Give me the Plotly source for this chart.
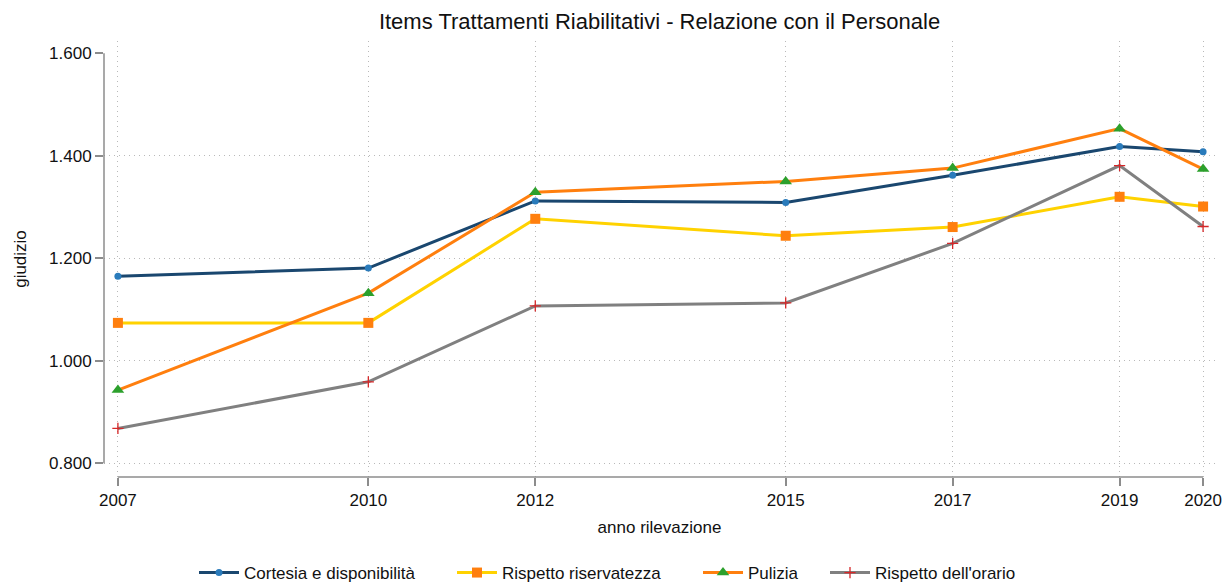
import plotly.graph_objects as go

# Survey years and average scores per item
anni = [2007, 2010, 2012, 2015, 2017, 2019, 2020]
cortesia = [1.165, 1.181, 1.312, 1.309, 1.362, 1.418, 1.408]
riservatezza = [1.074, 1.074, 1.277, 1.244, 1.261, 1.320, 1.301]
pulizia = [0.943, 1.132, 1.329, 1.350, 1.376, 1.453, 1.374]
orario = [0.868, 0.959, 1.107, 1.113, 1.229, 1.381, 1.262]

y_ticks = [0.8, 1.0, 1.2, 1.4, 1.6]
y_labels = ["0.800", "1.000", "1.200", "1.400", "1.600"]

FONT = "Liberation Sans, Arial, sans-serif"
GRID = "#b9b9b9"
AXIS = "#8c8c8c"
GRID_DASH = "1px,4px"

series = [
    ("Cortesia e disponibilità", cortesia, "#1a476f",
     dict(symbol="circle", size=7, color="#2a7bbb")),
    ("Rispetto riservatezza", riservatezza, "#ffd200",
     dict(symbol="square", size=10, color="#ff7f0e")),
    ("Pulizia", pulizia, "#ff7f0e",
     dict(symbol="triangle-up", size=11, color="#2ca02c")),
    ("Rispetto dell'orario", orario, "#808080",
     dict(symbol="cross-thin", size=8, color="#d62728",
          line=dict(color="#d62728", width=1.3))),
]

# each legend entry placed on its own along the bottom row (left edge, px)
legend_x_px = [194, 452, 698, 825]
legend_ids = ["legend", "legend2", "legend3", "legend4"]

fig = go.Figure()
for (name, vals, lc, mk), lid in zip(series, legend_ids):
    fig.add_trace(go.Scatter(
        x=anni, y=vals, name=name, mode="lines+markers",
        line=dict(color=lc, width=3), marker=mk, legend=lid,
    ))

# x range padded so the year ticks sit inside the plot frame
x_pad_l, x_pad_r = 14 / 84, 12 / 84
y_lo, y_hi = 0.8 - 13.7 * 0.2 / 102.67, 1.6 + 12.3 * 0.2 / 102.67

legend_common = dict(orientation="h", xref="container", xanchor="left",
                     yref="container", y=12 / 585, yanchor="middle",
                     font=dict(size=17), itemwidth=40,
                     bgcolor="rgba(0,0,0,0)")
legends = {lid: dict(legend_common, x=px / 1231)
           for lid, px in zip(legend_ids, legend_x_px)}

fig.update_layout(
    width=1231, height=585,
    margin=dict(l=104, r=9, t=41, b=108),
    paper_bgcolor="white", plot_bgcolor="white",
    font=dict(family=FONT, size=17, color="#111111"),
    title=dict(text="Items Trattamenti Riabilitativi - Relazione con il Personale",
               x=0.5, xref="paper", xanchor="center",
               y=1 - 21 / 585, yref="container", yanchor="middle",
               font=dict(size=22, color="#111111")),
    showlegend=True,
    **legends,
    xaxis=dict(
        range=[anni[0] - x_pad_l, anni[-1] + x_pad_r],
        tickmode="array", tickvals=anni, ticktext=[str(a) for a in anni],
        ticks="outside", ticklen=8, tickwidth=1.5, tickcolor=AXIS,
        showgrid=True, gridcolor=GRID, griddash=GRID_DASH, gridwidth=1,
        showline=False, zeroline=False,
        title=dict(text="anno rilevazione", standoff=11, font=dict(size=17)),
        tickfont=dict(size=17),
    ),
    yaxis=dict(
        range=[y_lo, y_hi],
        tickmode="array", tickvals=y_ticks, ticktext=y_labels,
        ticks="outside", ticklen=8, tickwidth=1.5, tickcolor=AXIS,
        showgrid=False, showline=False, zeroline=False,
        title=dict(text="giudizio", standoff=18, font=dict(size=17)),
        tickfont=dict(size=17),
    ),
    # horizontal grid below the top tick
    yaxis2=dict(
        overlaying="y", matches="y", range=[y_lo, y_hi],
        tickmode="array", tickvals=y_ticks[:-1],
        showticklabels=False, ticks="",
        showgrid=True, gridcolor=GRID, griddash=GRID_DASH, gridwidth=1,
        showline=False, zeroline=False,
    ),
)

# invisible trace so the grid axis is rendered
fig.add_trace(go.Scatter(x=[anni[0]], y=[y_ticks[0]], yaxis="y2",
                         mode="markers", marker=dict(opacity=0),
                         showlegend=False, hoverinfo="skip"))

# axis lines spanning the tick range only
fig.add_shape(type="line", xref="x", yref="paper", x0=anni[0], x1=anni[-1],
              y0=0, y1=0, line=dict(color=AXIS, width=1.5))
fig.add_shape(type="line", xref="paper", yref="y", x0=0, x1=0,
              y0=y_ticks[0], y1=y_ticks[-1], line=dict(color=AXIS, width=1.5))

fig.write_html("out.html")
